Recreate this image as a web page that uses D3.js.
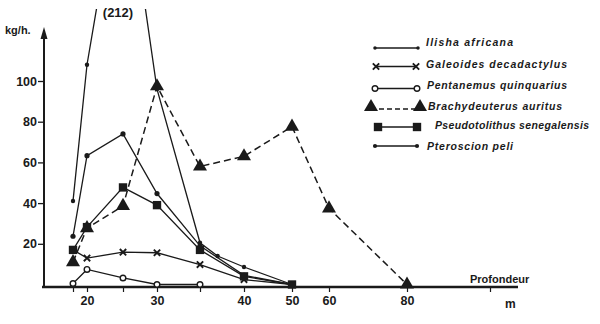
<!DOCTYPE html>
<html>
<head>
<meta charset="utf-8">
<script src="https://cdn.jsdelivr.net/npm/d3@7"></script>
<style>
  html, body { margin: 0; padding: 0; background: #fff; }
  svg { display: block; }
  text { font-family: "Liberation Sans", Arial, sans-serif; fill: #1a1a1a; }
</style>
</head>
<body>
<script>
// Catch rates (kg/h) by depth (m) for six species
const ilishaAfricana = [[18, 41], [20, 108], [25, 212], [30, 96], [35, 20.5], [37, 14], [40, 8.6], [50, 0]];
const galeoidesDecadactylus = [[18, 17], [20, 13], [25, 15.9], [30, 15.6], [35, 9.8], [40, 2.4], [50, 0]];
const pentanemusQuinquarius = [[18, 0.5], [20, 7.4], [25, 3.2], [30, 0], [35, 0]];
const brachydeuterusAuritus = [[18, 11], [20, 27.7], [25, 38.6], [30, 97.4], [35, 58], [40, 63], [50, 77.6], [60, 37.4], [80, 0]];
const pseudotolithusSenegalensis = [[18, 17], [20, 28.2], [25, 47.7], [30, 39], [35, 17], [40, 4], [50, 0]];
const pteroscionPeli = [[18, 23.7], [20, 63.3], [25, 74], [30, 44.7], [35, 19], [40, 4.5], [50, 0]];

const depthTicks = [18, 20, 25, 30, 35, 40, 50, 60, 80, 100];
const depthLabels = [20, 30, 40, 50, 60, 80];
const catchTicks = [20, 40, 60, 80, 100];

const W = 600, H = 324;
const ink = "#1a1a1a";

const svg = d3.select("body").append("svg").attr("width", W).attr("height", H);
svg.append("rect").attr("width", W).attr("height", H).attr("fill", "#fff");

// depth axis is hand-spaced, so it is piecewise linear
const x = d3.scaleLinear()
  .domain(depthTicks)
  .range([73, 87, 123, 157, 200, 244, 292, 329, 407, 490]);
const y = d3.scaleLinear().domain([0, 100]).range([284.5, 81]);

const axisY = y(0) + 2.5;
const axisX = 44;

// x axis
const gx = svg.append("g").attr("transform", `translate(0,${axisY})`)
  .call(d3.axisBottom(x).tickValues(depthTicks).tickSize(5).tickPadding(4)
    .tickFormat(d => depthLabels.includes(d) ? d : ""));
gx.select(".domain").remove();
gx.selectAll(".tick line").attr("stroke", ink).attr("stroke-width", 1.2);
gx.selectAll(".tick text").attr("font-size", 12.5).attr("font-weight", "bold").attr("fill", ink)
  .attr("font-family", "Liberation Sans, Arial, sans-serif");
svg.append("line").attr("x1", 42).attr("x2", 518).attr("y1", axisY).attr("y2", axisY)
  .attr("stroke", ink).attr("stroke-width", 2.4);

// y axis
const gy = svg.append("g").attr("transform", `translate(${axisX},0)`)
  .call(d3.axisLeft(y).tickValues(catchTicks).tickSize(6).tickPadding(1));
gy.select(".domain").remove();
gy.selectAll(".tick line").attr("stroke", ink).attr("stroke-width", 1.3);
gy.selectAll(".tick text").attr("font-size", 12.5).attr("font-weight", "bold").attr("fill", ink)
  .attr("font-family", "Liberation Sans, Arial, sans-serif");
svg.append("line").attr("x1", axisX).attr("x2", axisX).attr("y1", axisY + 1).attr("y2", 36)
  .attr("stroke", ink).attr("stroke-width", 2);
svg.append("path").attr("d", `M${axisX},27 L${axisX - 3.5},39 L${axisX + 3.5},39 Z`).attr("fill", ink);

svg.append("text").attr("x", 5).attr("y", 34).attr("font-size", 11).attr("font-weight", "bold").text("kg/h.");
svg.append("text").attr("x", 470).attr("y", 283).attr("font-size", 11).attr("font-weight", "bold").text("Profondeur");
svg.append("text").attr("x", 505).attr("y", 308).attr("font-size", 12).attr("font-weight", "bold").text("m");
svg.append("text").attr("x", 118).attr("y", 17).attr("text-anchor", "middle")
  .attr("font-size", 13).attr("font-weight", "bold").text("(212)");

// clip for the off-scale peak
svg.append("clipPath").attr("id", "plotClip")
  .append("rect").attr("x", 0).attr("y", 9).attr("width", W).attr("height", H);

const line = d3.line().x(d => x(d[0])).y(d => y(d[1]));

const series = [
  { name: "Ilisha  africana", data: ilishaAfricana, marker: "dot", r: 2.2, dash: null, clip: true },
  { name: "Galeoides decadactylus", data: galeoidesDecadactylus, marker: "x", dash: null },
  { name: "Pentanemus  quinquarius", data: pentanemusQuinquarius, marker: "circle", dash: null },
  { name: "Brachydeuterus  auritus", data: brachydeuterusAuritus, marker: "triangle", dash: "7,4" },
  { name: "Pseudotolithus  senegalensis", data: pseudotolithusSenegalensis, marker: "square", dash: null },
  { name: "Pteroscion  peli", data: pteroscionPeli, marker: "dot", r: 2.6, dash: null }
];

function drawMarker(g, kind, cx, cy, s) {
  if (kind === "dot") {
    g.append("circle").attr("cx", cx).attr("cy", cy).attr("r", s.r || 2.4).attr("fill", ink);
  } else if (kind === "circle") {
    g.append("circle").attr("cx", cx).attr("cy", cy).attr("r", 2.8)
      .attr("fill", "#fff").attr("stroke", ink).attr("stroke-width", 1.4);
  } else if (kind === "triangle") {
    g.append("path").attr("d", d3.symbol(d3.symbolTriangle, 85)())
      .attr("transform", `translate(${cx},${cy})`).attr("fill", ink);
  } else if (kind === "square") {
    g.append("path").attr("d", d3.symbol(d3.symbolSquare, 70)())
      .attr("transform", `translate(${cx},${cy})`).attr("fill", ink);
  } else if (kind === "x") {
    g.append("path").attr("d", d3.symbol(d3.symbolTimes, 28)())
      .attr("transform", `translate(${cx},${cy})`).attr("fill", "none")
      .attr("stroke", ink).attr("stroke-width", 1.9);
  }
}

// Ilisha first so the triangles sit on top of its peak marker
series.forEach(s => {
  const g = svg.append("g");
  if (s.clip) g.attr("clip-path", "url(#plotClip)");
  g.append("path").attr("d", line(s.data)).attr("fill", "none")
    .attr("stroke", ink).attr("stroke-width", s.dash ? 1.5 : 1.3)
    .attr("stroke-dasharray", s.dash);
  s.data.forEach(d => {
    if (d[1] <= 120) drawMarker(g, s.marker, x(d[0]), y(d[1]), s);
  });
});

// legend
const legendRows = [
  { lineY: 48, textY: 46, x1: 375, x2: 418, tx: 426, w: 87 },
  { lineY: 66.5, textY: 68, x1: 376, x2: 416, tx: 426, w: 141 },
  { lineY: 88.5, textY: 89, x1: 375, x2: 417, tx: 427, w: 140 },
  { lineY: 109, textY: 110, x1: 371, x2: 420, tx: 428, w: 134 },
  { lineY: 127, textY: 129, x1: 378, x2: 417, tx: 435, w: 154 },
  { lineY: 146, textY: 150, x1: 375, x2: 417, tx: 427, w: 86 }
];
const legend = svg.append("g");
series.forEach((s, i) => {
  const r = legendRows[i];
  legend.append("line").attr("x1", r.x1).attr("x2", r.x2).attr("y1", r.lineY).attr("y2", r.lineY)
    .attr("stroke", ink).attr("stroke-width", 1.3).attr("stroke-dasharray", s.dash ? "5,3" : null);
  const my = s.marker === "triangle" ? r.lineY - 2 : r.lineY;
  const ls = Object.assign({}, s, { r: s.r ? s.r * 0.8 : 2 });
  drawMarker(legend, s.marker, r.x1, my, ls);
  drawMarker(legend, s.marker, r.x2, my, ls);
  legend.append("text").attr("x", r.tx).attr("y", r.textY)
    .attr("font-size", 10.5).attr("font-weight", "bold").attr("font-style", "italic")
    .attr("textLength", r.w).attr("lengthAdjust", "spacing")
    .text(s.name);
});
</script>
</body>
</html>
